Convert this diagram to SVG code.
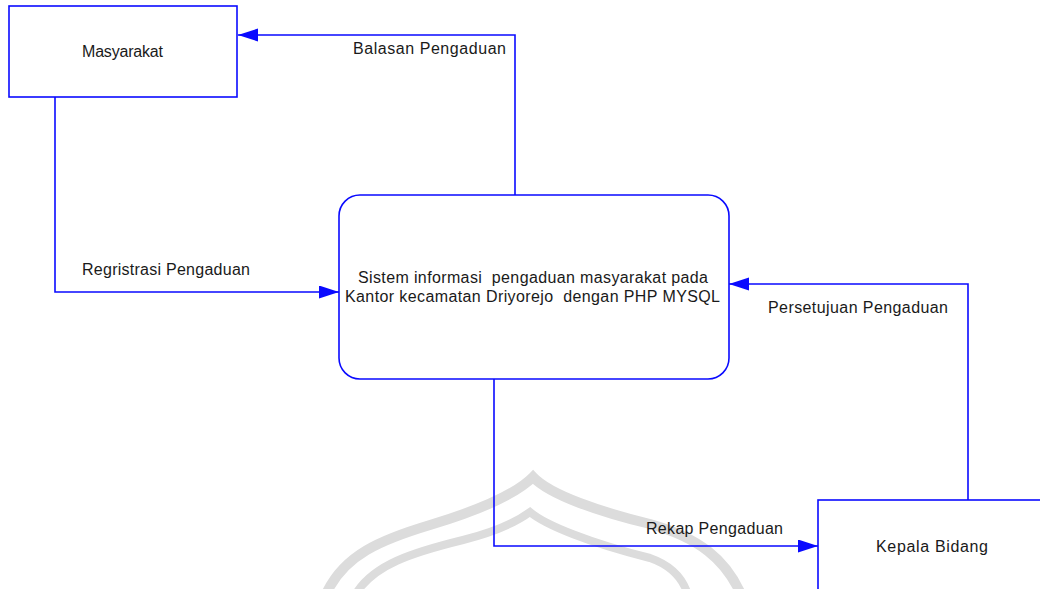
<svg xmlns="http://www.w3.org/2000/svg" width="1040" height="589" viewBox="0 0 1040 589">
  <defs>
    <style>
      .box { fill: #ffffff; stroke: #0a0aff; stroke-width: 1.6; }
      .flow { fill: none; stroke: #0a0aff; stroke-width: 1.6; marker-end: url(#arrow); }
      .lbl { font-family: "Liberation Sans", Arial, sans-serif; font-size: 16px; fill: #1a1a1a; white-space: pre; }
      .mark { fill: none; stroke: #dcdcdc; stroke-linecap: round; }
    </style>
    <marker id="arrow" markerUnits="userSpaceOnUse" markerWidth="22" markerHeight="14" refX="20" refY="6.5" orient="auto">
      <path d="M0,0 L20,6.5 L0,13 Z" fill="#0a0aff"/>
    </marker>
  </defs>

  <rect width="1040" height="589" fill="#ffffff"/>

  <!-- background emblem arcs -->
  <g id="emblem">
    <path class="mark" stroke-width="10" d="M327,592 C345,555 380,540 430,525 C480,510 515,495 533,477 C550,495 600,512 650,524 C700,538 725,560 740,592"/>
    <path class="mark" stroke-width="8" d="M357,592 C375,565 410,553 463,540 C495,532 515,523 530,512 C545,525 590,543 650,558 C670,565 682,578 687,592"/>
  </g>

  <!-- data flows -->
  <g id="connectors">
    <path class="flow" d="M515,195 L515,35 L238,35"/>
    <path class="flow" d="M55,97 L55,292 L339,292"/>
    <path class="flow" d="M494,379 L494,546 L818,546"/>
    <path class="flow" d="M968,500 L968,284 L729,284"/>
    <text class="lbl" x="353" y="54" textLength="153" lengthAdjust="spacing">Balasan Pengaduan</text>
    <text class="lbl" x="82" y="275" textLength="168" lengthAdjust="spacing">Regristrasi Pengaduan</text>
    <text class="lbl" x="646" y="534" textLength="137" lengthAdjust="spacing">Rekap Pengaduan</text>
    <text class="lbl" x="768" y="313" textLength="180" lengthAdjust="spacing">Persetujuan Pengaduan</text>
  </g>

  <g id="masyarakat">
    <rect class="box" x="9" y="6" width="228" height="91"/>
    <text class="lbl" x="82" y="57" textLength="81" lengthAdjust="spacing">Masyarakat</text>
  </g>

  <g id="sistem">
    <rect class="box" x="339" y="195" width="390" height="184" rx="21" ry="21"/>
    <text class="lbl" x="358" y="283" textLength="350" lengthAdjust="spacing" xml:space="preserve">Sistem informasi  pengaduan masyarakat pada</text>
    <text class="lbl" x="345" y="302" textLength="375" lengthAdjust="spacing" xml:space="preserve">Kantor kecamatan Driyorejo  dengan PHP MYSQL</text>
  </g>

  <g id="kepala-bidang">
    <rect class="box" x="818" y="500" width="240" height="100"/>
    <text class="lbl" x="876" y="552" textLength="112" lengthAdjust="spacing">Kepala Bidang</text>
  </g>
</svg>
